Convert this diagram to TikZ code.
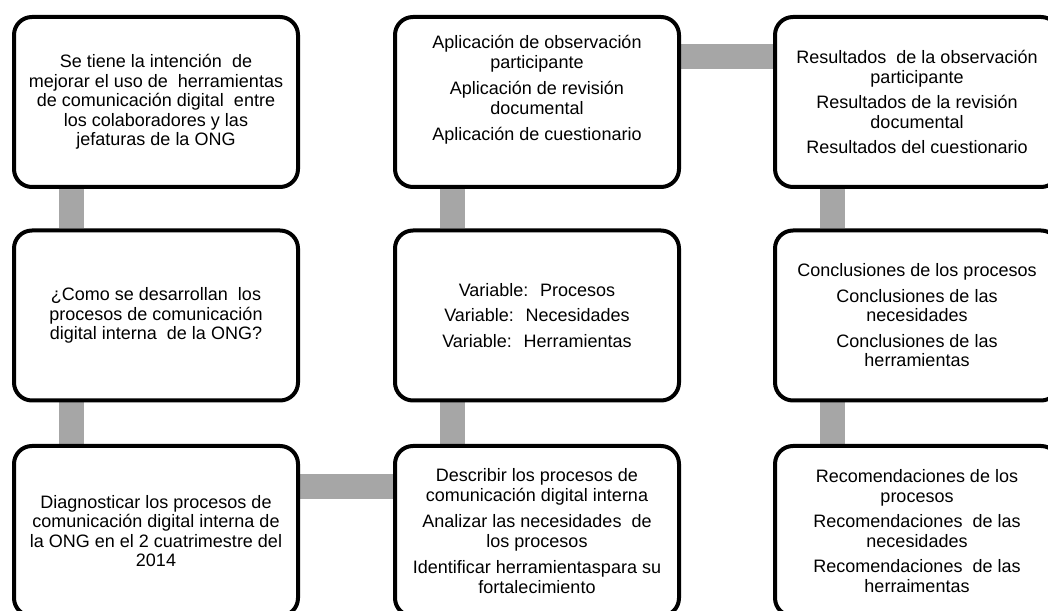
\documentclass[tikz,border=0pt]{standalone}
\usepackage{fontspec}
\setmainfont{Liberation Sans}
\usetikzlibrary{backgrounds}
\definecolor{bargray}{RGB}{166,166,166}
\begin{document}
\begin{tikzpicture}[x=1pt,y=1pt,
  box/.style={draw=black, line width=4pt, rounded corners=18pt, fill=white,
    minimum width=284pt, minimum height=170pt, inner sep=0pt, align=center,
    font=\fontsize{18}{19.5}\selectfont},
  txt/.style={align=center, inner sep=0pt, font=\fontsize{18}{19.5}\selectfont},
  bar/.style={draw=bargray, line width=25pt}]
\useasboundingbox (0,0) rectangle (1048,610);
\clip (0,0) rectangle (1048,610);

% column 1
\node[box] (q1) at (156,508) {Se tiene la intención~ de\\mejorar el uso de~ herramientas\\de comunicación digital~ entre\\los colaboradores y las\\jefaturas de la ONG};
\node[box] (q2) at (156,294.5) {¿Como se desarrollan~ los\\procesos de comunicación\\digital interna~ de la ONG?};
\node[box] (q3) at (156,79) {Diagnosticar los procesos de\\comunicación digital interna de\\la ONG en el 2 cuatrimestre del\\2014};

% column 2
\node[box] (m1) at (537,508) {};
\node[txt] (m1t) at (537,520) {Aplicación de observación\\participante\\[7pt]Aplicación de revisión\\documental\\[7pt]Aplicación de cuestionario};
\node[box] (m2) at (537,294.5) {Variable:~ Procesos\\[6pt]Variable:~ Necesidades\\[6pt]Variable:~ Herramientas};
\node[box] (m3) at (537,79) {Describir los procesos de\\comunicación digital interna\\[7pt]Analizar las necesidades~ de\\los procesos\\[7pt]Identificar herramientaspara su\\fortalecimiento};

% column 3
\node[box] (r1) at (917,508) {Resultados~ de la observación\\participante\\[6pt]Resultados de la revisión\\documental\\[6pt]Resultados del cuestionario};
\node[box] (r2) at (917,294.5) {Conclusiones de los procesos\\[6pt]Conclusiones de las\\necesidades\\[6pt]Conclusiones de las\\herramientas};
\node[box] (r3) at (917,79) {Recomendaciones de los\\procesos\\[6pt]Recomendaciones~ de las\\necesidades\\[6pt]Recomendaciones~ de las\\herraimentas};

% connectors
\begin{pgfonlayer}{background}
\draw[bar] ([xshift=59pt]q1.south west) -- ([xshift=59pt]q2.north west);
\draw[bar] ([xshift=59pt]q2.south west) -- ([xshift=59pt]q3.north west);
\draw[bar] ([yshift=-43pt]q3.north east) -- ([yshift=-43pt]m3.north west);
\draw[bar] ([xshift=59pt]m3.north west) -- ([xshift=59pt]m2.south west);
\draw[bar] ([xshift=59pt]m2.north west) -- ([xshift=59pt]m1.south west);
\draw[bar] ([yshift=-42pt]m1.north east) -- ([yshift=-42pt]r1.north west);
\draw[bar] ([xshift=59pt]r1.south west) -- ([xshift=59pt]r2.north west);
\draw[bar] ([xshift=59pt]r2.south west) -- ([xshift=59pt]r3.north west);
\end{pgfonlayer}
\end{tikzpicture}
\end{document}
